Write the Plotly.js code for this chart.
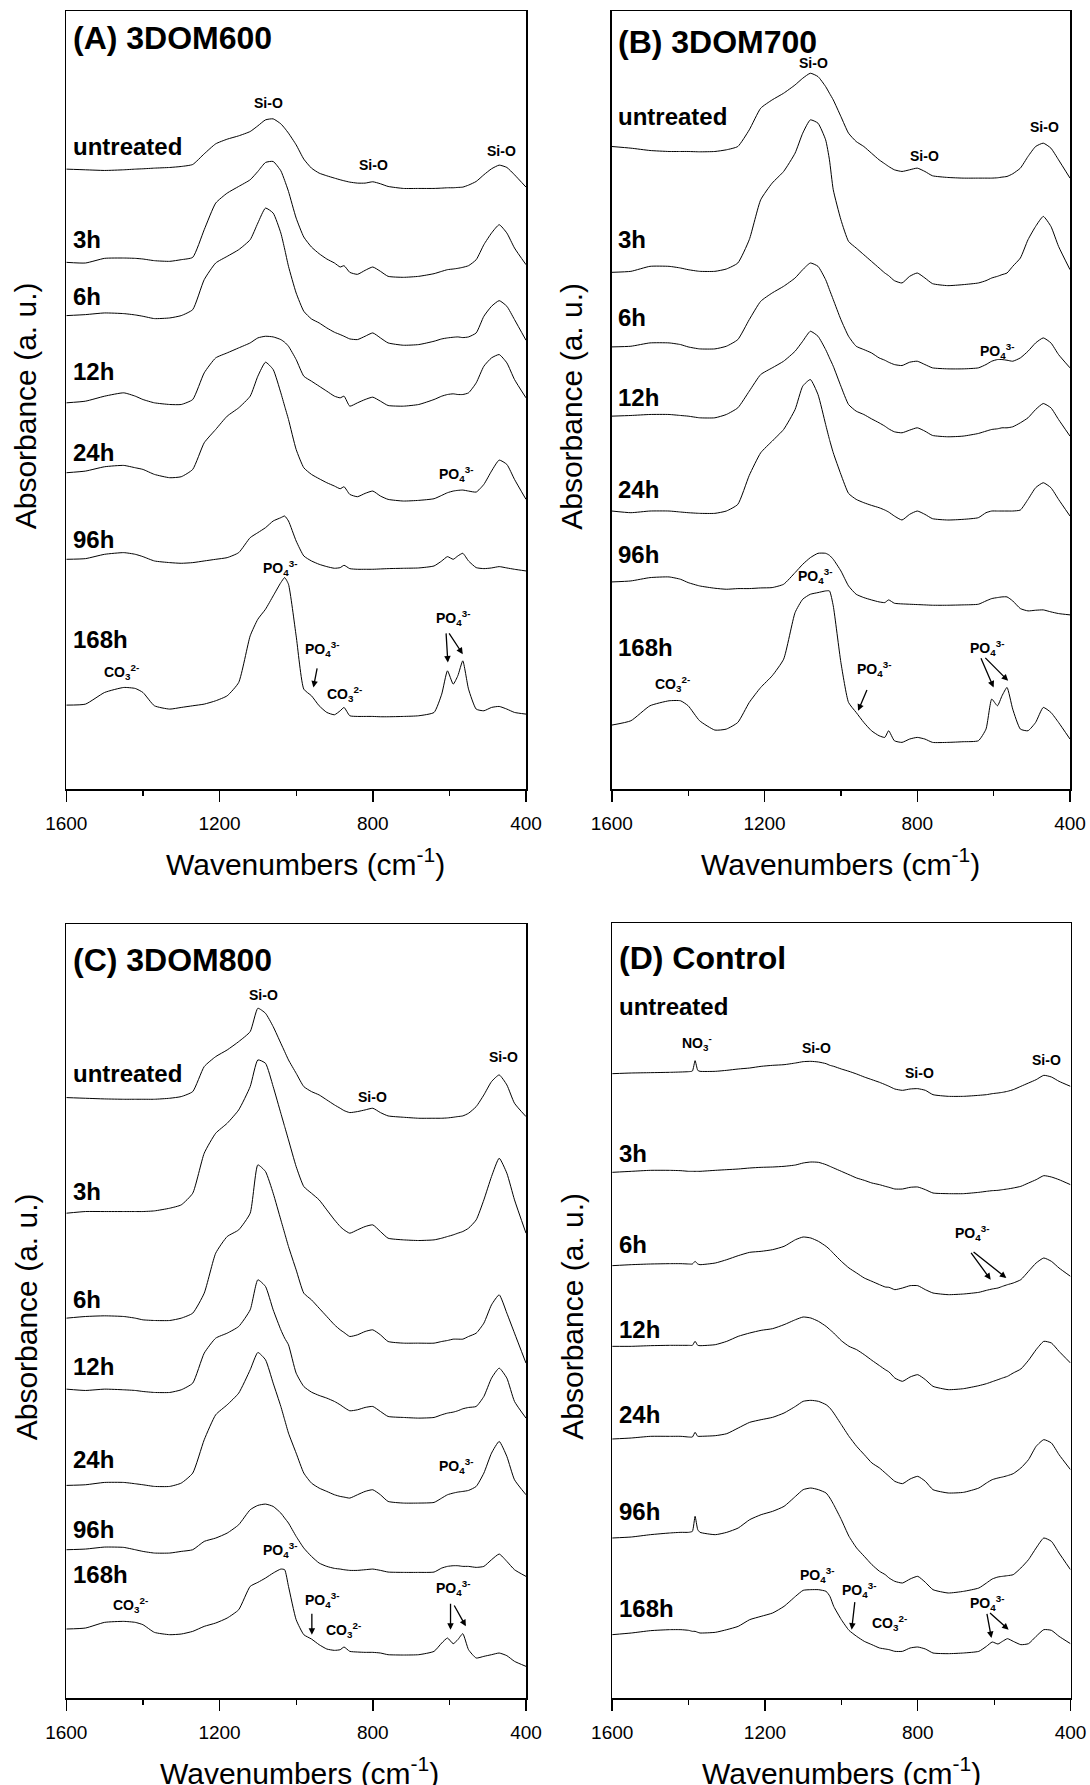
<!DOCTYPE html>
<html><head><meta charset="utf-8">
<script src="https://cdn.plot.ly/plotly-3.0.1.min.js"></script>
<style>html,body{margin:0;padding:0;background:#fff}</style>
</head><body>
<div id="chart" style="width:1090px;height:1785px"></div>
<script>
// ---------------- DATA ----------------
const seriesNames = ['untreated','3h','6h','12h','24h','96h','168h'];
const panelTitles = ['(A) 3DOM600','(B) 3DOM700','(C) 3DOM800','(D) Control'];
const xTickVals = [1600,1200,800,400];
const xMinorVals = [1400,1000,600];

// wavenumbers (cm-1) for panels A-C
const wn = [1600,1550,1500,1450,1420,1400,1370,1330,1300,1270,1240,1210,1180,1150,1120,1100,1080,1060,1040,1030,1020,1000,980,960,940,920,900,885,875,860,840,820,800,780,760,720,680,640,620,605,590,578,565,550,530,510,490,470,450,430,400];
// wavenumbers for panel D (includes the NO3- band near 1383)
const wnD = [1600,1550,1500,1450,1420,1400,1390,1383,1376,1370,1330,1300,1270,1240,1210,1180,1150,1120,1100,1080,1060,1040,1030,1020,1000,980,960,940,920,900,885,875,860,840,820,800,780,760,720,680,640,620,605,590,578,565,550,530,510,490,470,450,430,400];

// stacked absorbance (a.u.), panel A: 3DOM600
const A_untreated = [1862,1860,1858,1860,1862,1863,1865,1867,1870,1876,1908,1938,1952,1962,1975,1992,2010,2013,1998,1985,1970,1935,1892,1865,1850,1842,1835,1830,1827,1823,1820,1820,1824,1818,1810,1804,1804,1804,1805,1806,1806,1807,1808,1814,1825,1845,1863,1874,1867,1845,1808];
const A_3h = [1582,1580,1594,1595,1594,1592,1587,1585,1590,1597,1680,1760,1790,1810,1830,1855,1882,1885,1857,1828,1795,1715,1658,1628,1608,1592,1580,1568,1572,1552,1546,1558,1568,1555,1540,1537,1540,1548,1555,1560,1562,1564,1567,1572,1590,1635,1670,1695,1670,1625,1575];
const A_6h = [1422,1425,1430,1428,1424,1420,1413,1415,1422,1440,1530,1580,1600,1620,1650,1700,1745,1730,1670,1622,1570,1490,1435,1412,1400,1385,1372,1365,1360,1352,1350,1360,1370,1355,1340,1333,1335,1345,1352,1355,1357,1358,1356,1358,1370,1420,1450,1467,1450,1410,1348];
const A_12h = [1160,1165,1180,1190,1180,1170,1160,1155,1155,1170,1250,1295,1310,1325,1340,1355,1360,1358,1350,1342,1330,1290,1240,1225,1210,1195,1180,1175,1180,1150,1160,1170,1177,1165,1152,1150,1155,1170,1180,1185,1187,1185,1185,1190,1220,1270,1295,1305,1280,1230,1175];
const A_24h = [950,955,968,972,965,960,945,935,938,960,1040,1080,1120,1145,1180,1240,1282,1260,1190,1150,1110,1020,965,945,932,920,910,902,908,885,878,888,895,880,870,865,867,872,882,890,895,897,898,895,892,915,955,988,975,930,870];
const A_96h = [690,692,705,710,705,698,685,680,678,680,685,690,695,710,755,770,785,805,815,820,805,745,700,685,675,668,663,665,672,662,660,660,660,661,662,663,664,670,685,698,690,700,708,685,665,662,664,668,664,660,655];
const A_168h = [252,255,290,305,302,290,250,240,245,250,255,265,280,320,460,510,540,580,620,635,615,460,300,280,250,230,223,235,245,220,218,218,218,217,217,218,220,230,285,355,315,340,385,300,240,235,245,248,240,230,225];

// panel B: 3DOM700
const B_untreated = [1930,1925,1918,1915,1915,1915,1914,1915,1920,1930,1980,2045,2070,2090,2115,2135,2150,2140,2110,2090,2070,2020,1970,1945,1930,1910,1890,1878,1870,1860,1855,1860,1865,1855,1842,1837,1835,1835,1835,1835,1836,1838,1840,1848,1865,1900,1930,1940,1925,1890,1835];
const B_3h = [1552,1555,1570,1570,1565,1560,1555,1555,1562,1580,1650,1770,1820,1855,1910,1970,2010,2000,1950,1890,1800,1710,1645,1625,1605,1585,1565,1550,1542,1527,1520,1540,1550,1535,1518,1512,1515,1520,1527,1535,1540,1545,1550,1570,1595,1650,1690,1720,1690,1630,1560];
const B_6h = [1328,1330,1340,1340,1335,1328,1322,1322,1330,1350,1410,1465,1490,1510,1535,1560,1580,1570,1530,1500,1470,1410,1360,1330,1320,1310,1295,1288,1282,1275,1272,1282,1285,1275,1265,1262,1262,1265,1275,1285,1290,1290,1288,1285,1295,1315,1340,1355,1340,1305,1265];
const B_12h = [1120,1122,1125,1125,1122,1120,1115,1115,1125,1145,1195,1245,1265,1285,1315,1345,1375,1360,1320,1295,1270,1210,1155,1135,1125,1112,1100,1090,1082,1073,1070,1078,1085,1075,1062,1058,1060,1068,1075,1080,1082,1085,1085,1088,1100,1115,1140,1158,1145,1110,1060];
const B_24h = [835,830,835,835,832,830,828,828,835,855,942,1010,1045,1080,1140,1210,1230,1185,1095,1050,1010,945,888,870,860,852,845,838,832,820,808,825,835,825,812,808,810,815,830,835,835,835,835,835,838,870,905,920,905,870,820];
const B_96h = [622,625,635,637,630,620,610,603,600,602,602,604,605,615,650,675,695,708,708,702,690,655,610,585,575,568,562,560,568,558,556,555,554,553,552,552,553,555,565,572,575,577,577,565,542,535,537,538,532,527,523];
const B_168h = [192,205,250,265,265,250,205,177,180,200,260,305,340,390,530,570,585,590,595,595,550,380,260,230,200,175,160,155,175,145,140,150,155,150,140,140,142,145,180,270,250,280,305,240,180,175,200,245,230,200,150];

// panel C: 3DOM800
const C_untreated = [1802,1800,1798,1797,1797,1797,1797,1800,1805,1820,1895,1925,1945,1970,2000,2070,2055,2015,1965,1940,1915,1875,1835,1820,1810,1795,1780,1770,1763,1757,1760,1765,1770,1757,1747,1743,1740,1740,1740,1741,1743,1745,1747,1755,1775,1810,1850,1870,1840,1785,1745];
const C_3h = [1455,1460,1460,1460,1460,1460,1462,1470,1480,1515,1635,1695,1725,1765,1835,1915,1905,1835,1755,1715,1675,1595,1535,1515,1495,1465,1435,1415,1405,1395,1405,1415,1420,1400,1380,1375,1373,1375,1380,1385,1390,1395,1400,1410,1435,1495,1565,1620,1575,1495,1395];
const C_6h = [1140,1145,1147,1145,1140,1135,1133,1133,1140,1155,1215,1335,1385,1405,1455,1600,1580,1515,1435,1395,1355,1285,1215,1195,1170,1145,1120,1105,1097,1085,1090,1100,1105,1090,1070,1065,1065,1065,1070,1073,1077,1077,1077,1085,1095,1125,1180,1210,1155,1095,1005];
const C_12h = [927,923,927,925,923,920,917,917,925,945,1035,1080,1095,1115,1165,1255,1235,1165,1105,1080,1060,975,935,918,908,900,890,880,872,862,865,872,875,860,845,842,840,842,850,855,858,862,868,872,875,905,960,990,960,890,840];
const C_24h = [638,640,647,647,643,640,635,635,645,675,775,850,880,915,985,1037,1015,945,875,835,795,735,675,645,630,620,610,605,603,600,610,620,625,610,590,585,585,587,600,610,615,618,620,623,635,675,735,770,725,655,610];
const C_96h = [445,447,453,452,445,440,435,435,440,445,470,480,495,520,565,578,582,575,555,540,525,485,450,425,405,395,389,387,385,383,383,385,387,383,378,377,377,378,390,395,397,397,395,395,392,395,415,432,410,385,365];
const C_168h = [207,210,227,230,227,220,197,190,192,200,215,225,240,265,335,347,360,375,387,385,335,235,190,177,160,147,143,145,153,140,138,137,137,135,130,129,130,140,165,180,163,175,193,145,120,125,130,135,127,110,95];

// panel D: Control
const D_untreated = [1873,1875,1876,1877,1878,1879,1881,1912,1883,1880,1880,1883,1887,1890,1895,1898,1900,1905,1909,1910,1908,1903,1898,1895,1887,1880,1872,1863,1855,1847,1840,1835,1827,1823,1827,1828,1823,1810,1805,1805,1808,1810,1813,1815,1817,1820,1825,1835,1845,1855,1868,1863,1850,1835];
const D_3h = [1577,1580,1583,1583,1582,1580,1580,1580,1580,1580,1583,1585,1587,1590,1592,1593,1595,1599,1605,1608,1607,1600,1595,1590,1580,1570,1560,1553,1545,1540,1535,1532,1527,1527,1532,1533,1525,1515,1513,1513,1517,1520,1522,1523,1525,1527,1530,1535,1545,1555,1567,1563,1555,1540];
const D_6h = [1297,1300,1302,1303,1303,1302,1302,1310,1302,1300,1305,1315,1327,1337,1340,1345,1355,1375,1383,1380,1370,1355,1345,1333,1310,1290,1275,1260,1250,1240,1233,1232,1225,1230,1237,1237,1225,1215,1210,1212,1217,1223,1227,1230,1235,1240,1245,1255,1280,1305,1320,1310,1290,1265];
const D_12h = [1055,1055,1057,1058,1058,1058,1058,1070,1058,1057,1060,1070,1085,1095,1103,1108,1120,1135,1143,1140,1130,1115,1105,1095,1072,1055,1045,1030,1013,997,985,978,960,950,963,970,955,935,925,928,937,943,949,955,960,965,975,987,1013,1045,1070,1065,1040,1005];
const D_24h = [777,780,785,785,785,783,783,797,785,785,787,793,810,827,835,842,855,875,890,893,890,880,870,855,820,785,755,730,705,690,675,665,650,643,657,665,650,625,615,617,630,645,655,660,663,667,673,690,715,755,775,765,730,685];
const D_96h = [480,483,490,495,497,497,500,545,505,497,490,497,510,535,550,560,575,605,625,630,625,615,600,580,535,485,450,425,400,380,370,360,350,345,357,365,347,325,315,320,330,345,357,363,365,367,370,390,415,450,480,470,435,385];
const D_168h = [190,195,202,205,205,203,200,200,197,195,197,205,215,235,245,255,275,305,323,325,325,320,305,275,235,203,185,170,160,150,147,145,140,140,150,153,147,135,133,135,140,155,168,162,170,178,170,160,163,185,205,203,185,163];

// band labels
const SiO = 'Si-O';
const PO4 = 'PO<sub>4</sub><sup>3-</sup>';
const CO3 = 'CO<sub>3</sub><sup>2-</sup>';
const NO3 = 'NO<sub>3</sub><sup>-</sup>';

// ---------------- LAYOUT ----------------
const W = 1090, H = 1785;
const FONT = 'Liberation Sans, Arial, Helvetica, sans-serif';
const px = v => v / W;
const py = v => 1 - v / H;

const panels = [
  { series:[A_untreated,A_3h,A_6h,A_12h,A_24h,A_96h,A_168h], wn:wn,
    left:66.3, right:526, top:11, bottom:789, yTop:2337, titleY:2256, xTitleShift:9,
    labelY:[1929,1650,1479,1254,1011,750,450],
    bands:[[SiO,1073,2060],[SiO,798,1875],[SiO,465,1915],[PO4,582,945],[PO4,1041,665],[PO4,932,420],[CO3,873,285],[CO3,1455,352],[PO4,591,515]],
    arrows:[[955,305,944,370],[604,380,609,475],[565,405,605,475]] },
  { series:[B_untreated,B_3h,B_6h,B_12h,B_24h,B_96h,B_168h], wn:wn,
    left:611.8, right:1070, top:11, bottom:789, yTop:2337, titleY:2244, xTitleShift:0,
    labelY:[2020,1650,1415,1175,900,705,425],
    bands:[[SiO,1073,2180],[SiO,782,1900],[SiO,467,1990],[PO4,591,1315],[PO4,1068,640],[PO4,913,360],[CO3,1441,315],[PO4,618,425]],
    arrows:[[955,235,929,305],[600,305,636,400],[562,325,627,400]] },
  { series:[C_untreated,C_3h,C_6h,C_12h,C_24h,C_96h,C_168h], wn:wn,
    left:66.3, right:526, top:924, bottom:1698, yTop:2323, titleY:2215, xTitleShift:3,
    labelY:[1875,1520,1195,995,715,505,370],
    bands:[[SiO,1086,2110],[SiO,800,1805],[SiO,459,1925],[PO4,582,695],[PO4,1041,445],[PO4,932,295],[CO3,877,205],[CO3,1432,280],[PO4,591,330]],
    arrows:[[959,190,959,260],[597,205,597,290],[557,215,591,285]] },
  { series:[D_untreated,D_3h,D_6h,D_12h,D_24h,D_96h,D_168h], wn:wnD,
    left:612.2, right:1070.5, top:923, bottom:1698, yTop:2325, titleY:2221, xTitleShift:0,
    labelY:[2075,1635,1360,1105,850,560,270],
    bands:[[NO3,1377,1965],[SiO,1064,1950],[SiO,795,1875],[SiO,464,1915],[PO4,659,1395],[PO4,1064,370],[PO4,955,325],[CO3,873,225],[PO4,618,285]],
    arrows:[[609,1255,665,1343],[568,1260,659,1343],[973,205,964,295],[607,180,620,260],[562,205,616,260]] }
];

const traces = [];
const annotations = [];
const layout = {
  width: W, height: H,
  margin: {l:0, r:0, t:0, b:0},
  paper_bgcolor: '#fff', plot_bgcolor: '#fff',
  showlegend: false,
  font: {family: FONT, color: '#000'},
  annotations: annotations
};

panels.forEach((p, i) => {
  const sfx = i === 0 ? '' : String(i + 1);
  const xa = 'x' + sfx, ya = 'y' + sfx;
  p.series.forEach((s, j) => {
    traces.push({
      x: p.wn, y: s, xaxis: xa, yaxis: ya, type: 'scatter', mode: 'lines',
      name: seriesNames[j], hoverinfo: 'skip',
      line: {color: '#000', width: 1, shape: 'spline', smoothing: 0.5}
    });
    annotations.push({
      xref: xa, yref: ya, x: 1588, y: p.labelY[j], xanchor: 'left', yanchor: 'middle',
      text: '<b>' + seriesNames[j] + '</b>', showarrow: false,
      font: {size: 24, family: FONT, color: '#000'}
    });
  });
  annotations.push({
    xref: xa, yref: ya, x: 1588, y: p.titleY, xanchor: 'left', yanchor: 'middle',
    text: '<b>' + panelTitles[i] + '</b>', showarrow: false,
    font: {size: 32, family: FONT, color: '#000'}
  });
  p.bands.forEach(b => {
    annotations.push({
      xref: xa, yref: ya, x: b[1], y: b[2], xanchor: 'center', yanchor: 'middle',
      text: '<b>' + b[0] + '</b>', showarrow: false,
      font: {size: 14, family: FONT, color: '#000'}
    });
  });
  p.arrows.forEach(a => {
    annotations.push({
      xref: xa, yref: ya, x: a[0], y: a[1], axref: xa, ayref: ya, ax: a[2], ay: a[3],
      text: ' ', showarrow: true, arrowhead: 2, arrowsize: 1, arrowwidth: 1.3, arrowcolor: '#000',
      font: {size: 2}
    });
  });
  // axis titles
  annotations.push({
    xref: 'paper', yref: 'paper', x: px(p.left - 40), y: py((p.top + p.bottom) / 2 + 6),
    xanchor: 'center', yanchor: 'middle', textangle: -90,
    text: 'Absorbance (a. u.)', showarrow: false, font: {size: 30, family: FONT, color: '#000'}
  });
  annotations.push({
    xref: 'paper', yref: 'paper', x: px((p.left + p.right) / 2 + p.xTitleShift), y: py(p.bottom + 73),
    xanchor: 'center', yanchor: 'middle',
    text: 'Wavenumbers (cm<sup>-1</sup>)', showarrow: false, font: {size: 30, family: FONT, color: '#000'}
  });

  layout['xaxis' + sfx] = {
    domain: [px(p.left), px(p.right)], anchor: ya,
    range: [1600, 400], tickmode: 'array', tickvals: xTickVals,
    ticks: 'outside', ticklen: 11, tickwidth: 1.5, tickcolor: '#000',
    ticklabelstandoff: 6,
    tickfont: {size: 19, family: FONT, color: '#000'},
    minor: {tickmode: 'array', tickvals: xMinorVals, ticks: 'outside', ticklen: 5, tickwidth: 1.2, tickcolor: '#000', showgrid: false},
    showline: true, mirror: true, linecolor: '#000', linewidth: 1.5,
    showgrid: false, zeroline: false, fixedrange: true
  };
  layout['yaxis' + sfx] = {
    domain: [py(p.bottom), py(p.top)], anchor: xa,
    range: [0, p.yTop], showticklabels: false, ticks: '',
    showline: true, mirror: true, linecolor: '#000', linewidth: 1.5,
    showgrid: false, zeroline: false, fixedrange: true
  };
});

Plotly.newPlot('chart', traces, layout, {staticPlot: true, displayModeBar: false});
</script>
</body></html>
